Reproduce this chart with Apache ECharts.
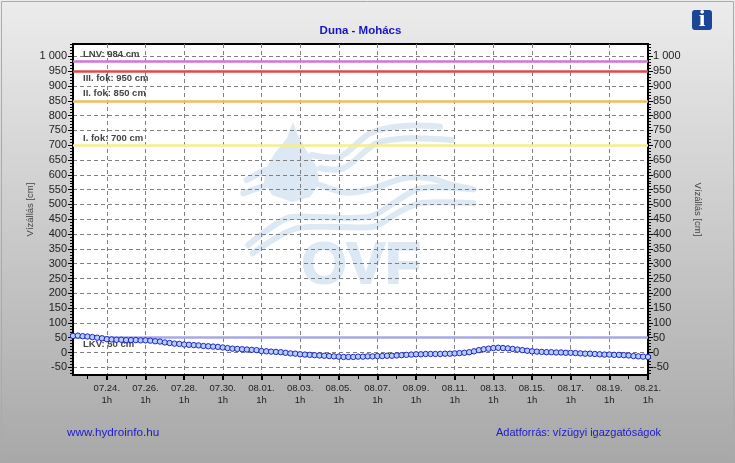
<!DOCTYPE html>
<html><head><meta charset="utf-8">
<style>html,body{margin:0;padding:0;background:#fff}#c{width:735px;height:463px}</style>
<script src="https://cdn.jsdelivr.net/npm/echarts@6/dist/echarts.min.js"></script>
</head><body><div id="c"></div>
<script>
const title = 'Duna - Mohács';
const yName = 'Vízállás [cm]';
const footerLeft = 'www.hydroinfo.hu';
const footerRight = 'Adatforrás: vízügyi igazgatóságok';
const stepHours = 6;
const waterLevel = [
 56,57,55,
 54,52,50,48, 45,44,43,43, 42,42,42,41, 41,40,38,37, 34,32,30,29,
 27,26,25,24, 22,21,20,19, 17,15,13,12, 11,10,9,8, 5,4,3,2,
 1,-1,-3,-4, -6,-7,-8,-9, -10,-11,-12,-13, -14,-15,-15,-15, -14,-14,-13,-13,
 -12,-12,-11,-11, -10,-9,-8,-7, -6,-6,-5,-5, -5,-5,-4,-4, -3,-2,-1,1,
 4,8,11,13, 15,16,15,14, 12,10,8,6, 4,3,2,1, 1,0,0,-1,
 -1,-2,-3,-4, -4,-5,-6,-7, -7,-8,-8,-9, -10,-12,-13,-14,
 -15
];
const thresholdNames = ['LNV: 984 cm','III. fok: 950 cm','II. fok: 850 cm','I. fok: 700 cm','LKV: 50 cm'];
const thresholdValues = [984,950,850,700,50];
const thresholdColors = ['#d76fdc','#e04848','#f2bc5c','#f5ee8c','#a9a9e6'];
const thresholdLabelSides = ['insideStartTop','insideStartBottom','insideStartTop','insideStartTop','insideStartBottom'];
const tickDays = ['07.24.','07.26.','07.28.','07.30.','08.01.','08.03.','08.05.','08.07.','08.09.','08.11.','08.13.','08.15.','08.17.','08.19.','08.21.'];
const tickHourLabel = '1h';
const yMajor = [-50,0,50,100,150,200,250,300,350,400,450,500,550,600,650,700,750,800,850,900,950,1000];
const yMin = -76, yMax = 1042;

// x axis counts hours from the first reading (07.22. 7h); 07.24. 1h is 42 hours later
const firstTickHour = 42, tickStepHours = 48;
const xMax = (waterLevel.length - 1) * stepHours;
const tickHours = tickDays.map((d, i) => firstTickHour + i * tickStepHours);
const dailyHours = [];
for (let h = firstTickHour - 24; h <= xMax; h += 24) dailyHours.push(h);
const yMinor = [];
for (let v = -70; v <= 1040; v += 10) yMinor.push(v);
const seriesData = waterLevel.map((v, i) => [i * stepHours, v]);

const font = 'Liberation Sans, Arial, sans-serif';
const fmtX = v => tickDays[Math.round((v - firstTickHour) / tickStepHours)] + '\n' + tickHourLabel;
const fmtY = v => v === 1000 ? '1 000' : String(v);
const WM = '#dce8f4';
const sx = x => 230 + x / 3, sy = y => 110 + y / 3;
const wave = pts => ({
  type: 'polyline', z: -1, silent: true,
  shape: { points: pts.map(p => [sx(p[0]), sy(p[1])]), smooth: 0.3 },
  style: { stroke: WM, lineWidth: 6, fill: null, lineCap: 'round' }
});
const dropOutline = [[293,122],[287,138],[275,153],[266,168],[264,182],[272,195],[292,202],[310,197],[319,184],[317,167],[306,150],[298,135]];
const gridLine = { color: '#808080', type: [4, 3], width: 1 };
const axisBlack = { color: '#000', width: 2 };
const tickBlack = { color: '#000', width: 1 };

const chart = echarts.init(document.getElementById('c'), null, { renderer: 'canvas' });
chart.setOption({
  animation: false,
  backgroundColor: { type: 'linear', x: 0, y: 0, x2: 0, y2: 1, colorStops: [{ offset: 0, color: '#ececec' }, { offset: 1, color: '#a8a8a8' }] },
  textStyle: { fontFamily: font },
  grid: { left: 73, right: 87, top: 44, bottom: 88, show: true, borderColor: '#000', borderWidth: 2, backgroundColor: 'transparent' },
  xAxis: [
    { type: 'value', min: 0, max: xMax, position: 'bottom',
      axisLine: { show: true, onZero: false, lineStyle: axisBlack },
      axisTick: { show: true, inside: false, length: 5, customValues: tickHours, lineStyle: { color: '#000', width: 2 } },
      axisLabel: { show: true, customValues: tickHours, formatter: fmtX, color: '#222', fontSize: 9.5, lineHeight: 12, margin: 7, hideOverlap: false },
      splitLine: { show: true, lineStyle: gridLine } },
    { type: 'value', min: 0, max: xMax, position: 'bottom',
      axisLine: { show: false, onZero: false },
      axisTick: { show: true, inside: false, length: 4, customValues: dailyHours, lineStyle: tickBlack },
      axisLabel: { show: false }, splitLine: { show: false } }
  ],
  yAxis: [
    { type: 'value', min: yMin, max: yMax, position: 'left', name: yName, nameLocation: 'middle', nameGap: 43, nameRotate: 90, nameMoveOverlap: false,
      nameTextStyle: { color: '#444', fontSize: 9.5, verticalAlign: 'middle' },
      axisLine: { show: true, lineStyle: axisBlack },
      axisTick: { show: true, inside: false, length: 5, customValues: yMajor, lineStyle: tickBlack },
      axisLabel: { show: true, customValues: yMajor, formatter: fmtY, color: '#222', fontSize: 11, margin: 6 },
      splitLine: { show: true, lineStyle: gridLine } },
    { type: 'value', min: yMin, max: yMax, position: 'left',
      axisLine: { show: false },
      axisTick: { show: true, inside: false, length: 3, customValues: yMinor, lineStyle: tickBlack },
      axisLabel: { show: false }, splitLine: { show: false } },
    { type: 'value', min: yMin, max: yMax, position: 'right', name: yName, nameLocation: 'middle', nameGap: 50, nameRotate: -90, nameMoveOverlap: false,
      nameTextStyle: { color: '#444', fontSize: 9.5, verticalAlign: 'middle' },
      axisLine: { show: true, lineStyle: axisBlack },
      axisTick: { show: true, inside: false, length: 5, customValues: yMajor, lineStyle: tickBlack },
      axisLabel: { show: true, customValues: yMajor, formatter: fmtY, color: '#222', fontSize: 11, margin: 5 },
      splitLine: { show: false } },
    { type: 'value', min: yMin, max: yMax, position: 'right',
      axisLine: { show: false },
      axisTick: { show: true, inside: false, length: 3, customValues: yMinor, lineStyle: tickBlack },
      axisLabel: { show: false }, splitLine: { show: false } }
  ],
  series: [{
    type: 'line', data: seriesData, xAxisIndex: 0, yAxisIndex: 0, z: 5, clip: false,
    symbol: 'circle', symbolSize: 5.4, showSymbol: true,
    lineStyle: { color: '#0000cc', width: 1.5 },
    itemStyle: { color: '#b4d0f6', borderColor: '#1010c8', borderWidth: 0.9 },
    markLine: {
      silent: true, symbol: 'none', z: 3,
      data: thresholdValues.map((v, i) => ({
        yAxis: v,
        lineStyle: { color: thresholdColors[i], width: 2.5, type: 'solid' },
        label: { show: true, formatter: thresholdNames[i], position: thresholdLabelSides[i], distance: [10, 2], color: '#444', fontSize: 9.5, fontWeight: 'bold', fontFamily: font }
      }))
    }
  }],
  graphic: [
    { type: 'rect', z: -3, silent: true, shape: { x: 73, y: 44, width: 575, height: 331 }, style: { fill: '#fff' } },
    { type: 'rect', z: 100, silent: true, shape: { x: 1.5, y: 1.5, width: 732, height: 459 }, style: { fill: null, stroke: '#aaa', lineWidth: 1 } },
    { type: 'polygon', z: -2, silent: true, shape: { points: dropOutline }, style: { fill: WM } },
    wave([[245,135],[330,140],[420,70],[520,48],[630,50]]),
    wave([[270,175],[340,175],[440,100],[540,85],[665,90]]),
    wave([[270,225],[350,248],[430,235],[520,205],[600,205],[665,225],[730,238]]),
    wave([[55,405],[170,325],[280,322],[420,320],[490,280],[570,235],[730,238]]),
    wave([[68,430],[200,355],[430,350],[500,310],[570,280],[730,280]]),
    wave([[50,210],[105,180]]),
    wave([[40,250],[110,225]]),
    { type: 'text', z: -1, silent: true, style: { x: 361, y: 267, text: 'OVF', align: 'center', verticalAlign: 'middle', fill: WM, stroke: WM, lineWidth: 2, font: 'bold 58px ' + font } },
    { type: 'text', z: 10, silent: true, style: { x: 360.5, y: 31, text: title, align: 'center', verticalAlign: 'middle', fill: '#1414c8', font: 'bold 11.5px ' + font } },
    { type: 'text', z: 10, silent: true, style: { x: 67, y: 433, text: footerLeft, fill: '#1a1acc', verticalAlign: 'middle', font: '11.7px ' + font } },
    { type: 'text', z: 10, silent: true, style: { x: 496, y: 433, text: footerRight, fill: '#1a1acc', verticalAlign: 'middle', font: '11px ' + font } },
    { type: 'rect', z: 10, silent: true, shape: { x: 692, y: 10, width: 20, height: 20, r: 3 }, style: { fill: '#1c4596' } },
    { type: 'text', z: 11, silent: true, style: { x: 702, y: 20, text: 'i', align: 'center', verticalAlign: 'middle', fill: '#fff', font: 'bold 24px Liberation Serif, serif' } }
  ]
});
</script></body></html>
